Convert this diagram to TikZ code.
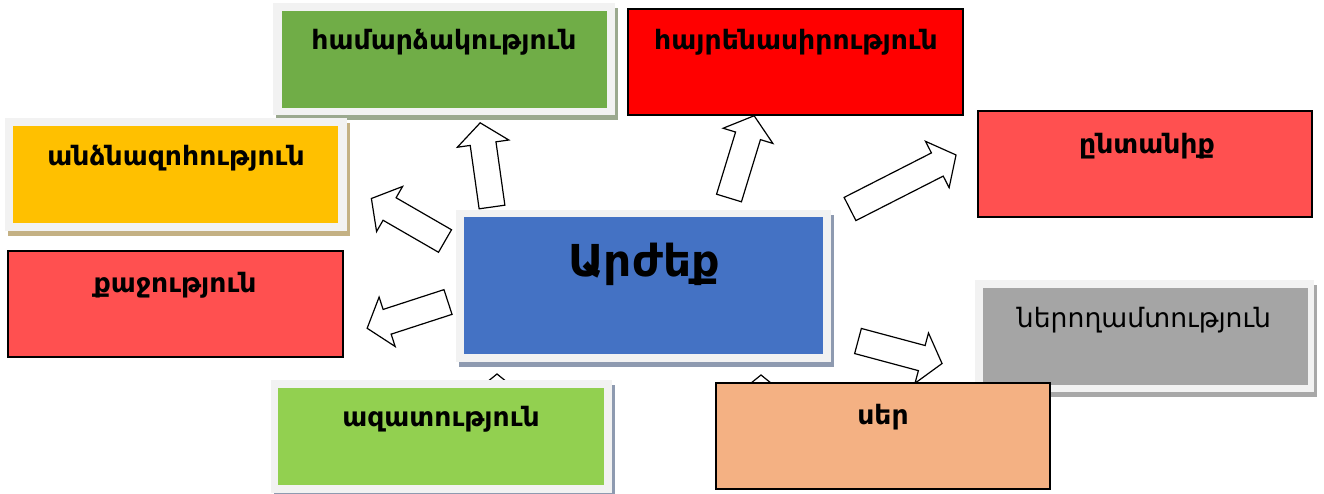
\documentclass[tikz,border=0pt]{standalone}
\usepackage{fontspec}
\setmainfont{DejaVu Sans}
\usepackage{tikz}
\usetikzlibrary{fit,shadows}

\definecolor{framegray}{HTML}{F2F2F2}
\definecolor{braveg}{HTML}{70AD47}
\definecolor{freeg}{HTML}{92D050}
\definecolor{gold}{HTML}{FFC000}
\definecolor{pinkred}{HTML}{FF5050}
\definecolor{valblue}{HTML}{4472C4}
\definecolor{tolgray}{HTML}{A5A5A5}
\definecolor{peach}{HTML}{F4B183}
\definecolor{shgreen}{HTML}{9BA98F}
\definecolor{shtan}{HTML}{C4B184}
\definecolor{shblue}{HTML}{8E9AB0}
\definecolor{shgray}{HTML}{A8A8A8}

\tikzset{
	frame/.style={fill=framegray, inner sep=0pt, outer sep=0pt,
		drop shadow={shadow xshift=2.25pt, shadow yshift=-3.75pt, fill=#1, opacity=1}},
	inbox/.style={fill=#1, inner sep=0pt, outer sep=0pt},
	plainbox/.style={fill=#1, draw=black, line width=1pt, inner sep=0pt, outer sep=0pt},
	lbl/.style={font=\bfseries\fontsize{20}{24}\selectfont, inner sep=0pt},
	thinlbl/.style={font=\fontsize{20}{24}\selectfont, inner sep=0pt},
	biglbl/.style={font=\bfseries\fontsize{33}{38}\selectfont, inner sep=0pt},
	arrowline/.style={draw=black, fill=white, line width=0.9pt, line join=miter}
}

% block arrow: tail centre x, y, angle, length
\newcommand{\valarrow}[4]{
	\draw[arrowline, shift={(#1,#2)}, rotate=#3]
		(0,-13) -- (#4-21,-13) -- (#4-21,-26) -- (#4,0) -- (#4-21,26) -- (#4-21,13) -- (0,13) -- cycle;
}

\begin{document}
\begin{tikzpicture}[x=0.75pt, y=-0.75pt]
	\useasboundingbox (0,0) rectangle (1324,493);

	% arrows out of the centre
	\valarrow{492}{207}{98}{85}
	\valarrow{445}{241}{150}{85}
	\valarrow{448}{302}{198}{85}
	\valarrow{729}{198}{73}{86}
	\valarrow{850}{209}{27}{119}
	\valarrow{858}{341}{-15}{87}
	\valarrow{497}{459}{90}{85}
	\valarrow{761}{460}{90}{85}

	% framed boxes
	\node[frame=shgreen, fit={(273,3) (615,115)}] (bravef) {};
	\node[inbox=braveg, fit={(282,11) (607,108)}] (brave) {};
	\node[lbl] (tbrave) at (444,42) {համարձակություն};

	\node[plainbox=red, fit={(628,9) (963,115)}] (patriot) {};
	\node[lbl] (tpatriot) at (796,42) {հայրենասիրություն};

	\node[frame=shtan, fit={(5,118) (347,231)}] (sacrificef) {};
	\node[inbox=gold, fit={(13,126) (338,223)}] (sacrifice) {};
	\node[lbl] (tsacrifice) at (176,158) {անձնազոհություն};

	\node[plainbox=pinkred, fit={(8,251) (343,357)}] (courage) {};
	\node[lbl] (tcourage) at (175,285) {քաջություն};

	\node[frame=shblue, fit={(456,210) (831,362)}] (valuef) {};
	\node[inbox=valblue, fit={(464,217) (823,354)}] (value) {};
	\node[biglbl] (tvalue) at (644,264) {Արժեք};

	\node[plainbox=pinkred, fit={(978,111) (1312,217)}] (family) {};
	\node[lbl] (tfamily) at (1147,146) {ընտանիք};

	\node[frame=shgray, fit={(975,280) (1314,392)}] (tolerancef) {};
	\node[inbox=tolgray, fit={(983,288) (1308,385)}] (tolerance) {};
	\node[thinlbl] (ttolerance) at (1144,320) {ներողամտություն};

	\node[frame=shblue, fit={(271,380) (612,493)}] (freedomf) {};
	\node[inbox=freeg, fit={(278,388) (604,485)}] (freedom) {};
	\node[lbl] (tfreedom) at (441,419) {ազատություն};

	\node[plainbox=peach, fit={(716,383) (1050,489)}] (love) {};
	\node[lbl] (tlove) at (883,417) {սեր};
\end{tikzpicture}
\end{document}
